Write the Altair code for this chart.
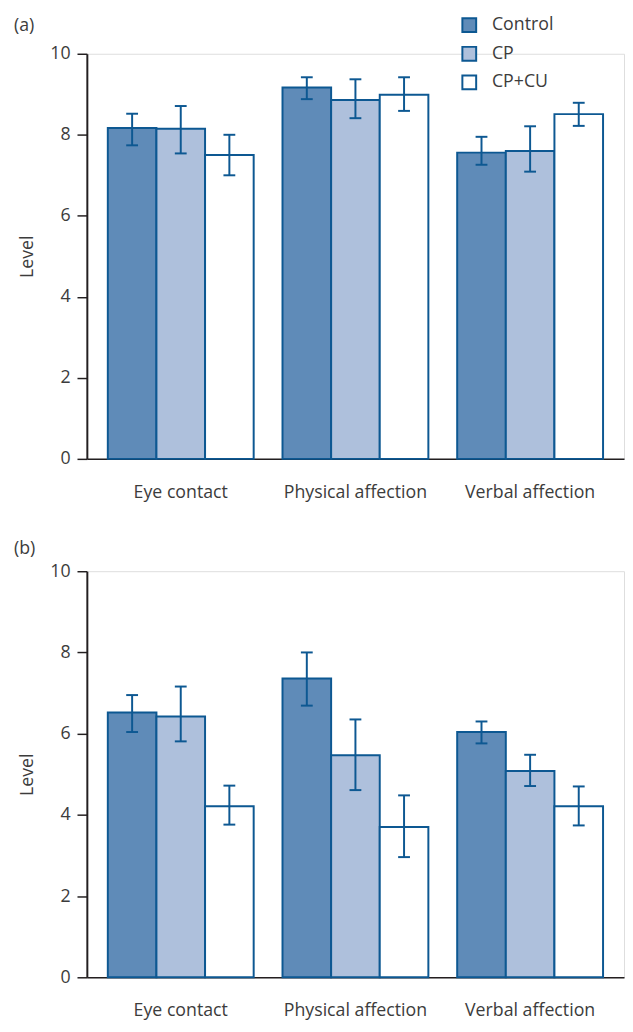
import altair as alt
import pandas as pd

categories = ["Eye contact", "Physical affection", "Verbal affection"]
groups = ["Control", "CP", "CP+CU"]

# Panel (a): means and error-bar ends, per group, in category order
a_control_mean = [8.17, 9.17, 7.56]
a_control_lo = [7.74, 8.88, 7.26]
a_control_hi = [8.52, 9.42, 7.95]
a_cp_mean = [8.15, 8.86, 7.60]
a_cp_lo = [7.54, 8.41, 7.09]
a_cp_hi = [8.71, 9.37, 8.21]
a_cpcu_mean = [7.50, 8.99, 8.51]
a_cpcu_lo = [7.00, 8.59, 8.22]
a_cpcu_hi = [8.00, 9.42, 8.79]

# Panel (b)
b_control_mean = [6.52, 7.36, 6.04]
b_control_lo = [6.04, 6.69, 5.76]
b_control_hi = [6.95, 8.00, 6.30]
b_cp_mean = [6.42, 5.47, 5.08]
b_cp_lo = [5.81, 4.61, 4.71]
b_cp_hi = [7.16, 6.35, 5.48]
b_cpcu_mean = [4.21, 3.70, 4.21]
b_cpcu_lo = [3.76, 2.96, 3.74]
b_cpcu_hi = [4.72, 4.48, 4.70]

y_ticks = [0, 2, 4, 6, 8, 10]

FILLS = ["#5f8bb8", "#aec0dc", "#ffffff"]
STROKE = "#0d5892"
TXT = "#3c3c3c"
AXIS = "#231f20"
FONT = "Open Sans"
FS = 18


def make_df(series):
    rows = []
    for g, (m, lo, hi) in zip(groups, series):
        for c, mv, lv, hv in zip(categories, m, lo, hi):
            rows.append({"category": c, "group": g, "mean": mv, "lo": lv, "hi": hv})
    return pd.DataFrame(rows)


df_a = make_df([
    (a_control_mean, a_control_lo, a_control_hi),
    (a_cp_mean, a_cp_lo, a_cp_hi),
    (a_cpcu_mean, a_cpcu_lo, a_cpcu_hi),
])
df_b = make_df([
    (b_control_mean, b_control_lo, b_control_hi),
    (b_cp_mean, b_cp_lo, b_cp_hi),
    (b_cpcu_mean, b_cpcu_lo, b_cpcu_hi),
])


def panel(df, label, label_dy, show_legend, h):
    base = alt.Chart(df).encode(
        x=alt.X(
            "category:N",
            sort=categories,
            scale=alt.Scale(paddingInner=0.165, paddingOuter=0.12),
            axis=alt.Axis(
                title=None, labelAngle=0, ticks=False, labelPadding=25,
                domainColor=AXIS, domainWidth=1.5, labelFontSize=FS,
                labelColor=TXT, labelFont=FONT,
            ),
        ),
        xOffset=alt.XOffset(
            "group:N", sort=groups,
            scale=alt.Scale(paddingInner=0, paddingOuter=0),
        ),
    )
    if show_legend:
        legend = alt.Legend(
            title=None, orient="none", legendX=379, legendY=-38,
            symbolType="square", symbolSize=196, symbolStrokeColor=STROKE,
            symbolStrokeWidth=2, symbolOpacity=1, labelFontSize=FS,
            labelColor=TXT, labelFont=FONT, labelOffset=14, rowPadding=7,
        )
    else:
        legend = None
    bars = base.mark_bar(stroke=STROKE, strokeWidth=2).encode(
        y=alt.Y(
            "mean:Q",
            scale=alt.Scale(domain=[0, 10], nice=False),
            axis=alt.Axis(
                values=y_ticks, title="Level", grid=False, tickSize=10,
                tickWidth=1.5, tickColor=AXIS, domainColor=AXIS, domainWidth=2,
                labelPadding=7, labelFontSize=FS, labelColor=TXT, labelFont=FONT,
                titleFontSize=FS, titleFontWeight="normal", titleColor=TXT,
                titleFont=FONT, titlePadding=14,
            ),
        ),
        fill=alt.Fill("group:N", sort=groups,
                      scale=alt.Scale(domain=groups, range=FILLS), legend=legend),
    )
    rules = base.mark_rule(color=STROKE, strokeWidth=2).encode(
        y="lo:Q", y2="hi:Q")
    cap_hi = base.mark_tick(color=STROKE, thickness=2, size=12, opacity=1).encode(
        y="hi:Q")
    cap_lo = base.mark_tick(color=STROKE, thickness=2, size=12, opacity=1).encode(
        y="lo:Q")
    tag = alt.Chart(pd.DataFrame({"t": [label]})).mark_text(
        align="left", baseline="middle", fontSize=FS, color=TXT, font=FONT
    ).encode(x=alt.value(-74), y=alt.value(label_dy), text="t:N")
    return alt.layer(bars, rules, cap_hi, cap_lo, tag).properties(
        width=545, height=h)


chart = alt.vconcat(
    panel(df_a, "(a)", -28, True, 411),
    panel(df_b, "(b)", -22, False, 412),
    spacing=38,
).resolve_scale(fill="independent").properties(
    padding={"left": 5, "top": 0, "right": 0, "bottom": 0}
).configure_view(stroke=None).configure(font=FONT)

chart.save("out.html", embed_options={"renderer": "svg", "actions": False})
